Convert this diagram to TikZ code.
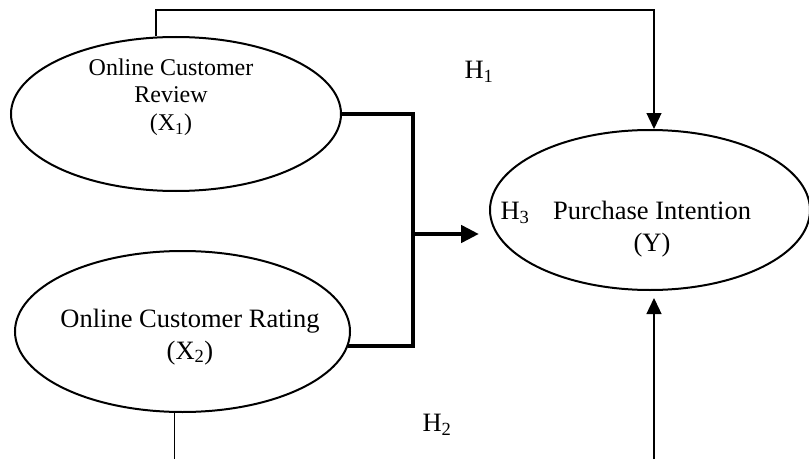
\documentclass[tikz,border=0pt]{standalone}
\usepackage{fontspec}
\setmainfont{Liberation Serif}
\usetikzlibrary{shapes.geometric,arrows.meta}

\begin{document}
\begin{tikzpicture}[x=1pt, y=1pt,
  latent/.style={draw, ellipse, line width=2pt, inner sep=0pt},
  link/.style={line width=1.3pt},
  boldlink/.style={line width=4.5pt},
  tip/.style={-{Triangle[length=16pt, width=15pt]}},
  boldtip/.style={-{Triangle[length=18pt, width=17pt]}},
  lbl/.style={font=\fontsize{26.5}{31.5}\selectfont, align=center, inner sep=0pt}
]
\useasboundingbox (0,0) rectangle (809,459);

\coordinate (base) at (0,0);
\coordinate (bar) at (413,0);
\coordinate (join) at (413,225);
\coordinate (top) at (654,449);

% constructs
\node[latent, minimum width=330, minimum height=154] (x1) at (176,345) {};
\node[latent, minimum width=335, minimum height=161] (x2) at (182.5,127.5) {};
\node[latent, minimum width=320, minimum height=160] (y) at (650,249) {};

\node[lbl, font=\fontsize{24}{27.5}\selectfont] (x1text) at (171,362) {Online Customer\\Review\\(X\textsubscript{1})};
\node[lbl] (x2text) at (190,122) {Online Customer Rating\\(X\textsubscript{2})};
\node[lbl] (ytext) at (652,230) {Purchase Intention\\(Y)};

% hypotheses
\node[lbl] (h1) at (479,387) {H\textsubscript{1}};
\node[lbl] (h2) at (437,34) {H\textsubscript{2}};
\node[lbl] (h3) at (515,246) {H\textsubscript{3}};

% paths
\draw[link, tip] ([xshift=-20pt]x1.north) |- (top) -- (top |- y.north);
\draw[link] ([xshift=-8pt]x2.south) -- ([xshift=-8pt]x2.south |- base);
\draw[link, tip, shorten >=7pt] (top |- base) -- (top |- y.south);

\draw[boldlink] (x1.east) -- (x1.east -| bar) -- (x2.-5 -| bar) -- (x2.-5);
\draw[boldlink, boldtip, shorten >=10pt] (join) -- (y.west |- join);
\end{tikzpicture}
\end{document}
